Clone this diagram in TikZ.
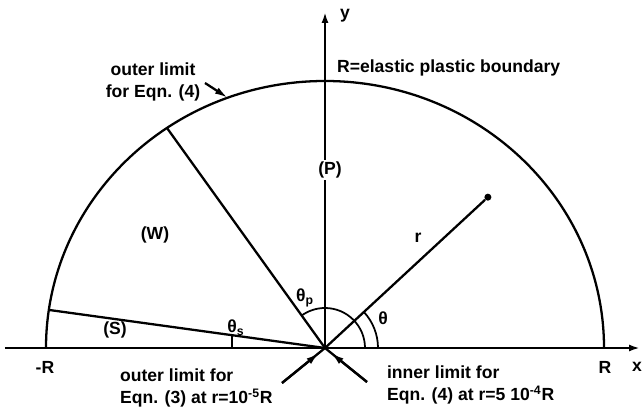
\documentclass[tikz,border=0pt]{standalone}
\usepackage{fontspec}
\setmainfont{Liberation Sans}
\usetikzlibrary{arrows.meta,calc}
\newcommand{\Rx}{279}
\newcommand{\Ry}{267}
\newcommand{\AngS}{171.8}
\newcommand{\AngW}{124.5}
\newcommand{\AngOut}{110.4}
\newcommand{\AngR}{42.8}
\newcommand{\AngP}{125.9}

\begin{document}
\begin{tikzpicture}[
    x=0.02cm, y=0.02cm,
    font=\fontsize{10}{13}\selectfont\bfseries,
    line/.style={line width=1.3pt},
    axis/.style={line width=1.3pt, -{Latex[length=2.2mm, width=1.4mm]}},
    pointer/.style={line width=1.3pt, -{Latex[length=2.6mm, width=1.4mm]}},
    angle/.style={line width=1pt},
    lbl/.style={inner sep=1pt},
    dot/.style={circle, fill, inner sep=0pt, minimum size=1.4mm},
  ]
\useasboundingbox (-325,-67) rectangle (319,348);

% --- Axes ----------------------------------------------------------------------
\coordinate (O) at (0,0);
\coordinate (xl) at (-320,0);
\coordinate (xr) at (315,0);
\coordinate (yt) at (0,336);
\draw[axis] (xl) -- (xr);
\draw[axis] (O) -- (yt);
\node[lbl] (ylab) at (20,332) {y};
\node[lbl] (xlab) at (312,-19) {x};
\node[lbl] (Rlab) at (280,-19) {R};
\node[lbl] (mRlab) at (-280,-19) {-R};

% --- The elastic plastic boundary ------------------------------------------------
\coordinate (Rr) at (\Rx,0);
\draw[line] (Rr) arc[start angle=0, end angle=180, x radius=\Rx, y radius=\Ry];
\node[lbl, anchor=west] (bnd) at (10,280) {R=elastic plastic boundary};

% --- The rays ----------------------------------------------------------------------
\coordinate (S) at ({\Rx*cos(\AngS)}, {\Ry*sin(\AngS)});
\coordinate (W) at ({\Rx*cos(\AngW)}, {\Ry*sin(\AngW)});
\node[dot] (rp) at (\AngR:222) {};
\draw[line] (O) -- (S);
\draw[line] (O) -- (W);
\draw[line] (O) -- (rp);
\node[lbl, fill=white] (P) at (5,178) {(P)};
\node (Wlab) at (-170,113) {(W)};
\node (Slab) at (-210,18) {(S)};
\node (rlab) at (93,110) {r};

% --- Angles ------------------------------------------------------------------------
\coordinate (tsTop) at ($(O)!0.337!(S)$);
\draw[angle] (tsTop) -- (tsTop |- O);
\coordinate (ap) at (40,0);
\coordinate (at) at (53,0);
\draw[angle] (ap) arc[start angle=0, end angle=\AngP, radius=40];
\draw[angle] (at) arc[start angle=0, end angle=\AngR, radius=53];
\node (tplab) at (-20,50) {θ\textsubscript{p}};
\node (tlab) at (58,30) {θ};
\node (tslab) at (-89,20) {θ\textsubscript{s}};

% --- Limits of the equations ---------------------------------------------------------
\coordinate (outR) at ({\Rx*cos(\AngOut)}, {\Ry*sin(\AngOut)});
\coordinate (outTail) at (-120,265);
\draw[pointer] (outTail) -- (outR);
\node[lbl, align=center] (outer4) at (-172,266) {outer limit\\for Eqn. (4)};

\coordinate (ll) at (-43,-35);
\coordinate (llTip) at (-6,-5);
\coordinate (lr) at (42,-34);
\coordinate (lrTip) at (6,-5);
\draw[line] (ll) -- (O);
\draw[line] (lr) -- (O);
\draw[pointer] (ll) -- (llTip);
\draw[pointer] (lr) -- (lrTip);
\node[lbl, anchor=west, align=left] (outer3) at (-207,-40) {outer limit for\\Eqn. (3) at r=10\textsuperscript{-5}R};
\node[lbl, anchor=west, align=left] (inner4) at (60,-37) {inner limit for\\Eqn. (4) at r=5 10\textsuperscript{-4}R};

\end{tikzpicture}
\end{document}
